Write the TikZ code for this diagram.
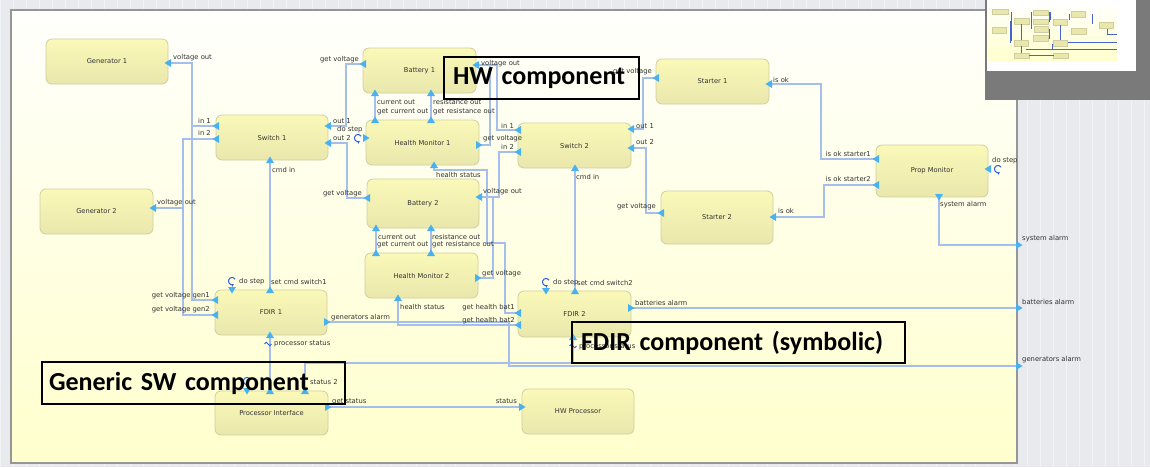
\documentclass[tikz,border=0pt]{standalone}
\usepackage{fontspec}
\setmainfont{DejaVu Sans}
\newfontfamily\calloutfont{Carlito}
\usetikzlibrary{arrows.meta,calc}

\definecolor{bggray}{RGB}{232,234,238}
\definecolor{gridline}{RGB}{242,243,246}
\definecolor{framegray}{RGB}{150,150,150}
\definecolor{canvastop}{RGB}{255,255,252}
\definecolor{canvasbot}{RGB}{255,255,205}
\definecolor{boxtop}{RGB}{250,249,184}
\definecolor{boxbot}{RGB}{233,231,172}
\definecolor{boxedge}{RGB}{208,206,160}
\definecolor{wire}{RGB}{166,190,236}
\definecolor{portfill}{RGB}{72,178,240}
\definecolor{iconblue}{RGB}{45,95,230}
\definecolor{labelgray}{RGB}{50,50,50}
\definecolor{mapgray}{RGB}{122,122,122}
\definecolor{mapline}{RGB}{70,100,205}

\newcommand\portL[1]{\pic[rotate=180] at (#1) {port};}
\newcommand\portR[1]{\pic at (#1) {port};}
\newcommand\portU[1]{\pic[rotate=90] at (#1) {port};}
\newcommand\portD[1]{\pic[rotate=-90] at (#1) {port};}
\newcommand\stepicon[1]{\draw[iconblue, line width=1pt, -{Stealth[length=2.8pt,width=3.2pt]}] ($(#1)+(3.1,-1.8)$) arc[start angle=30, end angle=300, radius=3.6pt];}
\newcommand\waveicon[1]{\draw[iconblue, line width=0.8pt] ($(#1)+(-3.5,0)$) sin ++(1.75,-1.8) cos ++(1.75,1.8) sin ++(1.75,1.8) cos ++(1.75,-1.8);}

\begin{document}
\begin{tikzpicture}[x=1pt,y=-1pt,
  comp/.style={draw=boxedge, line width=0.8pt, rounded corners=6pt,
    top color=boxtop, bottom color=boxbot, text=labelgray,
    font=\fontsize{6.7}{8}\selectfont, inner sep=0pt},
  plbl/.style={text=labelgray, font=\fontsize{6.8}{8}\selectfont, inner sep=0pt},
  wirestyle/.style={draw=wire, line width=1.2pt},
  callout/.style={draw=black, line width=2pt, anchor=west, align=left,
    font=\calloutfont\bfseries\fontsize{26}{28}\selectfont, inner ysep=0pt},
  port/.pic={\fill[portfill] (3.5,0) -- (-3,-4) -- (-3,4) -- cycle;},
]
\useasboundingbox (0,0) rectangle (1150,467);

% workspace background with its grid
\fill[bggray] (0,0) rectangle (1150,467);
\draw[gridline, line width=0.6pt] (0,0) grid[step=13] (1150,467);

% drawing canvas
\fill[top color=canvastop, bottom color=canvasbot] (11,10) rectangle (1017,463);
\draw[framegray, line width=1.6pt] (11,10) rectangle (1017,463);

% port positions on the component edges
\coordinate (g1vo) at (168,63);
\coordinate (g2vo) at (153,208);
\coordinate (s1in1) at (216,126); \coordinate (s1in2) at (216,139);
\coordinate (s1o1) at (328,126);  \coordinate (s1o2) at (328,143);
\coordinate (s1cmd) at (270,160);
\coordinate (f1g1) at (215,300);  \coordinate (f1g2) at (215,315);
\coordinate (f1cmd) at (270,290); \coordinate (f1step) at (232,290);
\coordinate (f1ga) at (327,322);  \coordinate (f1ps) at (270,335);
\coordinate (b1gv) at (363,64);   \coordinate (b1vo) at (476,65);
\coordinate (b1cur) at (375,93);  \coordinate (b1res) at (431,93);
\coordinate (h1cur) at (375,120); \coordinate (h1res) at (431,120);
\coordinate (h1step) at (366,138); \coordinate (h1gv) at (479,145);
\coordinate (h1hs) at (434,165);
\coordinate (b2gv) at (367,198);  \coordinate (b2vo) at (479,197);
\coordinate (b2cur) at (376,228); \coordinate (b2res) at (431,228);
\coordinate (h2cur) at (376,253); \coordinate (h2res) at (431,253);
\coordinate (h2gv) at (478,278);  \coordinate (h2hs) at (398,298);
\coordinate (s2in1) at (518,130); \coordinate (s2in2) at (518,152);
\coordinate (s2o1) at (631,129);  \coordinate (s2o2) at (631,148);
\coordinate (s2cmd) at (575,168);
\coordinate (t1gv) at (656,78);   \coordinate (t1ok) at (769,84);
\coordinate (t2gv) at (661,213);  \coordinate (t2ok) at (773,217);
\coordinate (pk1) at (876,159);   \coordinate (pk2) at (876,185);
\coordinate (pstep) at (988,169); \coordinate (palarm) at (939,197);
\coordinate (f2b1) at (518,313);  \coordinate (f2b2) at (518,325);
\coordinate (f2step) at (546,291); \coordinate (f2cmd) at (575,291);
\coordinate (f2ba) at (631,308);  \coordinate (f2ps) at (573,337);
\coordinate (pistep) at (247,391); \coordinate (pips) at (270,391);
\coordinate (pips2) at (305,391); \coordinate (pigs) at (328,407);
\coordinate (hwst) at (522,407);
\coordinate (xsys) at (1019,245); \coordinate (xbat) at (1019,308);
\coordinate (xgen) at (1019,366);

% connections
\draw[wirestyle] (s1in1) -- ++(-24,0) |- (g1vo);
\draw[wirestyle] (f1g1) -- ++(-23,0) |- (g1vo);
\draw[wirestyle] (s1in2) -- ++(-33,0) |- (g2vo);
\draw[wirestyle] (f1g2) -- ++(-32,0) |- (g2vo);
\draw[wirestyle] (b1gv) -- ++(-17,0) |- (s1o1);
\draw[wirestyle] (b2gv) -- ++(-20,0) |- (s1o2);
\draw[wirestyle] (h1cur) -- (b1cur);
\draw[wirestyle] (h1res) -- (b1res);
\draw[wirestyle] (h2cur) -- (b2cur);
\draw[wirestyle] (h2res) -- (b2res);
\draw[wirestyle] (h1gv) -- ++(11,0) |- (b1vo);
\draw[wirestyle] (s2in1) -- ++(-21,0) |- (b1vo);
\draw[wirestyle] (s2in2) -- ++(-19,0) |- (b2vo);
\draw[wirestyle] (h2gv) -- ++(15,0) |- (b2vo);
\draw[wirestyle] (f2b1) -- ++(-13,0) -- ++(0,-70) -- ++(-18,0) -- ++(0,-73) -| (h1hs);
\draw[wirestyle] (f2b2) -| (h2hs);
\draw[wirestyle] (f1cmd) -- (s1cmd);
\draw[wirestyle] (f2cmd) -- (s2cmd);
\draw[wirestyle] (t1gv) -- ++(-13,0) |- (s2o1);
\draw[wirestyle] (t2gv) -- ++(-15,0) |- (s2o2);
\draw[wirestyle] (pk1) -- ++(-55,0) |- (t1ok);
\draw[wirestyle] (pk2) -- ++(-52,0) |- (t2ok);
\draw[wirestyle] (palarm) |- (xsys);
\draw[wirestyle] (f2ba) -- (xbat);
\draw[wirestyle] (f1ga) -- ++(182,0) |- (xgen);
\draw[wirestyle] (pips) -- (f1ps);
\draw[wirestyle] (pips2) -- ++(0,-28) -| (f2ps);
\draw[wirestyle] (pigs) -- (hwst);

% components
\node[comp, minimum width=122pt, minimum height=45pt] (gen1) at (107,61.5) {Generator 1};
\node[comp, minimum width=113pt, minimum height=45pt] (gen2) at (96.5,211.5) {Generator 2};
\node[comp, minimum width=112pt, minimum height=45pt] (sw1) at (272,137.5) {Switch 1};
\node[comp, minimum width=112pt, minimum height=45pt] (fdir1) at (271,312.5) {FDIR 1};
\node[comp, minimum width=113pt, minimum height=45pt] (bat1) at (419.5,70.5) {Battery 1};
\node[comp, minimum width=113pt, minimum height=45pt] (hm1) at (422.5,142.5) {Health Monitor 1};
\node[comp, minimum width=112pt, minimum height=49pt] (bat2) at (423,203.5) {Battery 2};
\node[comp, minimum width=113pt, minimum height=45pt] (hm2) at (421.5,275.5) {Health Monitor 2};
\node[comp, minimum width=113pt, minimum height=45pt] (sw2) at (574.5,145.5) {Switch 2};
\node[comp, minimum width=113pt, minimum height=45pt] (st1) at (712.5,81.5) {Starter 1};
\node[comp, minimum width=112pt, minimum height=53pt] (st2) at (717,217.5) {Starter 2};
\node[comp, minimum width=112pt, minimum height=52pt] (prop) at (932,171) {Prop Monitor};
\node[comp, minimum width=113pt, minimum height=46pt] (fdir2) at (574.5,314) {FDIR 2};
\node[comp, minimum width=113pt, minimum height=44pt] (procif) at (271.5,413) {Processor Interface};
\node[comp, minimum width=112pt, minimum height=45pt] (hwproc) at (578,411.5) {HW Processor};

% port markers
\foreach \p in {g1vo,g2vo,s1in1,s1in2,s1o1,s1o2,f1g1,f1g2,b1gv,b1vo,b2gv,b2vo,
  s2in1,s2in2,s2o1,s2o2,t1gv,t1ok,t2gv,t2ok,pk1,pk2,pstep,f2b1,f2b2} {\portL{\p}}
\foreach \p in {h1step,h1gv,h2gv,f1ga,f2ba,pigs,hwst,xsys,xbat,xgen} {\portR{\p}}
\foreach \p in {s1cmd,f1cmd,b1cur,b1res,h1cur,h1res,h1hs,b2cur,b2res,h2cur,h2res,
  h2hs,s2cmd,f2cmd,f1ps,f2ps,pips,pips2} {\portU{\p}}
\foreach \p in {f1step,f2step,pistep,palarm} {\portD{\p}}

% step and data icons
\stepicon{232,281}
\stepicon{546,282}
\stepicon{358,138}
\stepicon{998,169}
\stepicon{247,381}
\waveicon{268,344}
\waveicon{573,346}

% port labels
\node[plbl, anchor=west] (l01) at (173,58) {voltage out};
\node[plbl, anchor=west] (l01b) at (157,203) {voltage out};
\node[plbl, anchor=east] (l02) at (211,121) {in 1};
\node[plbl, anchor=east] (l03) at (211,133) {in 2};
\node[plbl, anchor=west] (l04) at (333,121) {out 1};
\node[plbl, anchor=west] (l05) at (337,129.5) {do step};
\node[plbl, anchor=west] (l06) at (333,138) {out 2};
\node[plbl, anchor=west] (l07) at (272,169.5) {cmd in};
\node[plbl, anchor=east] (l08) at (359,60) {get voltage};
\node[plbl, anchor=west] (l09) at (377,102) {current out};
\node[plbl, anchor=west] (l10) at (377,112) {get current out};
\node[plbl, anchor=west] (l11) at (433,102) {resistance out};
\node[plbl, anchor=west] (l12) at (433,112) {get resistance out};
\node[plbl, anchor=west] (l13) at (481,64) {voltage out};
\node[plbl, anchor=west] (l14) at (501,126) {in 1};
\node[plbl, anchor=west] (l15) at (483,139) {get voltage};
\node[plbl, anchor=west] (l16) at (501,147) {in 2};
\node[plbl, anchor=west] (l17) at (436,174.5) {health status};
\node[plbl, anchor=east] (l18) at (362,193.5) {get voltage};
\node[plbl, anchor=west] (l19) at (483,192) {voltage out};
\node[plbl, anchor=west] (l20) at (378,237) {current out};
\node[plbl, anchor=west] (l21) at (377,245) {get current out};
\node[plbl, anchor=west] (l22) at (432,237) {resistance out};
\node[plbl, anchor=west] (l23) at (432,245) {get resistance out};
\node[plbl, anchor=west] (l24) at (482,274) {get voltage};
\node[plbl, anchor=west] (l25) at (400,307) {health status};
\node[plbl, anchor=east] (l26) at (515,308) {get health bat1};
\node[plbl, anchor=east] (l27) at (515,321) {get health bat2};
\node[plbl, anchor=west] (l28) at (331,318) {generators alarm};
\node[plbl, anchor=west] (l29) at (239,282) {do step};
\node[plbl, anchor=west] (l30) at (271,282) {set cmd switch1};
\node[plbl, anchor=east] (l31) at (210,296) {get voltage gen1};
\node[plbl, anchor=east] (l32) at (210,310) {get voltage gen2};
\node[plbl, anchor=west] (l33) at (274,344) {processor status};
\node[plbl, anchor=west] (l34) at (636,126) {out 1};
\node[plbl, anchor=west] (l35) at (636,142) {out 2};
\node[plbl, anchor=west] (l36) at (576,177) {cmd in};
\node[plbl, anchor=east] (l37) at (652,72) {get voltage};
\node[plbl, anchor=east] (l38) at (656,207) {get voltage};
\node[plbl, anchor=west] (l39) at (773,80) {is ok};
\node[plbl, anchor=west] (l40) at (778,211) {is ok};
\node[plbl, anchor=east] (l41) at (871,154) {is ok starter1};
\node[plbl, anchor=east] (l42) at (871,179) {is ok starter2};
\node[plbl, anchor=west] (l43) at (992,161) {do step};
\node[plbl, anchor=west] (l44) at (940,205) {system alarm};
\node[plbl, anchor=west] (l45) at (1022,239) {system alarm};
\node[plbl, anchor=west] (l46) at (1022,302) {batteries alarm};
\node[plbl, anchor=west] (l47) at (1022,360) {generators alarm};
\node[plbl, anchor=west] (l48) at (553,283) {do step};
\node[plbl, anchor=west] (l49) at (577,283) {set cmd switch2};
\node[plbl, anchor=west] (l50) at (635,303) {batteries alarm};
\node[plbl, anchor=west] (l51) at (579,347) {processor status};
\node[plbl, anchor=west] (l52) at (332,402) {get status};
\node[plbl, anchor=east] (l53) at (517,401) {status};
\node[plbl, anchor=west] (l54) at (310,382) {status 2};

% annotation frames
\node[callout, minimum height=42pt, inner xsep=9pt, text width=177pt] (hwnote) at (443,78) {HW component};
\node[callout, minimum height=41pt, inner xsep=9pt, text width=315pt] (fdirnote) at (571,342.5) {FDIR component (symbolic)};
\node[callout, minimum height=42pt, inner xsep=7pt, text width=289pt] (swnote) at (41,383) {Generic SW component};

% overview map in the corner
\fill[mapgray] (985,0) rectangle (1150,100);
\fill[white] (987,0) rectangle (1136,71);
\begin{scope}[shift={(988,5)}, xscale=0.1283, yscale=0.1258, shift={(-11,-10)}]
  \fill[top color=canvastop, bottom color=canvasbot] (11,10) rectangle (1017,453);
  \foreach \a/\b/\c/\d in {46/39/168/84, 40/189/153/234, 216/115/328/160,
      215/290/327/335, 363/48/476/93, 366/120/479/165, 367/179/479/228,
      365/253/478/298, 518/123/631/168, 656/59/769/104, 661/191/773/244,
      876/145/988/197, 518/291/631/337, 215/391/328/435, 522/389/634/434}
    {\fill[boxbot, draw=boxedge, line width=0.3pt] (\a,\b) rectangle (\c,\d);}
  \draw[mapline, line width=0.8pt] (192,63) -- (192,300) (183,139) -- (183,315)
    (270,160) -- (270,290) (575,168) -- (575,291) (346,64) -- (346,198)
    (490,65) -- (490,145) (497,65) -- (497,130) (493,197) -- (493,278)
    (270,335) -- (270,391) (305,363) -- (573,363) (328,407) -- (522,407)
    (643,78) -- (643,129) (821,84) -- (821,159) (939,197) -- (939,245) -- (1017,245)
    (631,308) -- (1017,308) (509,322) -- (509,366) -- (1017,366);
\end{scope}
\end{tikzpicture}
\end{document}
